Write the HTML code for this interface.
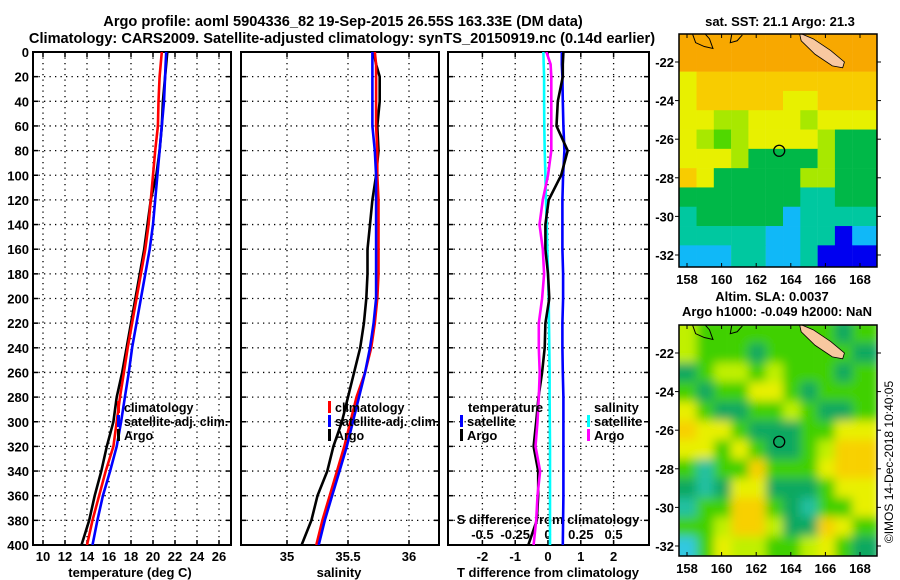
<!DOCTYPE html>
<html><head><meta charset="utf-8">
<style>
html,body{margin:0;padding:0;background:#fff;}
svg{display:block;font-family:"Liberation Sans",Arial,sans-serif;font-weight:bold;}
</style></head>
<body>
<svg id="chart" width="900" height="580" viewBox="0 0 900 580" xmlns="http://www.w3.org/2000/svg">
<defs>
<filter id="blur" x="0" y="0" width="1" height="1"><feGaussianBlur stdDeviation="5"/></filter>
<clipPath id="clipTop"><rect x="679" y="34" width="198" height="233"/></clipPath>
<clipPath id="clipBot"><rect x="679" y="325" width="198" height="231"/></clipPath>
<clipPath id="c1"><rect x="33" y="52" width="198" height="493"/></clipPath>
<clipPath id="c2"><rect x="241" y="52" width="198" height="493"/></clipPath>
<clipPath id="c3"><rect x="449" y="52" width="199" height="493"/></clipPath>
</defs>
<text x="343" y="26" font-size="14.6" text-anchor="middle">Argo profile: aoml 5904336_82 19-Sep-2015 26.55S 163.33E (DM data)</text>
<text x="342" y="43" font-size="14.6" text-anchor="middle">Climatology: CARS2009. Satellite-adjusted climatology: synTS_20150919.nc (0.14d earlier)</text>
<g id="plots"></g>
<text transform="translate(893,462) rotate(-90)" font-size="12" font-weight="normal" text-anchor="middle">©IMOS 14-Dec-2018 10:40:05</text>
</svg>
<script>
const depths=[0,10,20,40,60,80,100,120,140,160,180,200,220,240,260,280,300,320,340,360,380,400];
const tClim=[20.8,20.7,20.6,20.5,20.45,20.2,20.0,19.8,19.6,19.3,18.9,18.5,18.1,17.7,17.35,17.0,16.7,16.4,15.7,15.1,14.5,14.0];
const tSat=[21.2,21.15,21.1,21.0,20.8,20.6,20.4,20.2,20.0,19.7,19.3,18.9,18.5,18.1,17.8,17.45,17.1,16.7,16.1,15.45,14.95,14.5];
const tArgo=[21.3,21.2,21.1,20.9,20.8,20.6,20.3,19.8,19.5,19.2,18.8,18.4,18.0,17.6,17.2,16.7,16.4,15.8,15.3,14.7,14.2,13.5];
const sClim=[35.72,35.73,35.73,35.73,35.73,35.74,35.74,35.75,35.75,35.75,35.75,35.74,35.72,35.69,35.64,35.57,35.52,35.47,35.41,35.35,35.29,35.24];
const sSat=[35.70,35.70,35.70,35.70,35.70,35.72,35.73,35.73,35.73,35.73,35.73,35.73,35.71,35.68,35.64,35.59,35.54,35.49,35.43,35.37,35.31,35.26];
const sArgo=[35.71,35.73,35.76,35.76,35.74,35.75,35.73,35.70,35.68,35.66,35.66,35.65,35.63,35.60,35.55,35.50,35.45,35.38,35.33,35.25,35.20,35.12];
const tDiffSat=[0.42,0.42,0.44,0.45,0.47,0.5,0.46,0.44,0.44,0.44,0.46,0.46,0.44,0.44,0.45,0.47,0.47,0.47,0.47,0.47,0.46,0.45];
const tDiffArgo=[0.47,0.45,0.45,0.3,0.26,0.6,0.4,0.02,-0.08,-0.08,0.0,0.04,-0.08,-0.1,-0.18,-0.29,-0.36,-0.44,-0.3,-0.3,-0.34,-0.6];
const sDiffSat=[-0.035,-0.033,-0.03,-0.03,-0.028,-0.025,-0.02,-0.015,-0.01,-0.005,0,0.005,0.008,0.01,0.012,0.012,0.014,0.015,0.015,0.015,0.015,0.015];
const sDiffArgo=[-0.012,0.02,0.025,0.025,0.025,0.025,0.0,-0.04,-0.065,-0.04,-0.03,-0.045,-0.07,-0.07,-0.063,-0.07,-0.08,-0.095,-0.06,-0.08,-0.09,-0.11];
const depthTicks=[0,20,40,60,80,100,120,140,160,180,200,220,240,260,280,300,320,340,360,380,400];
const tTicks=[10,12,14,16,18,20,22,24,26];
const sTicks=[35,35.5,36];
const sTickLabels=["35","35.5","36"];
const dTicks=[-2,-1,0,1,2];
const sdTicks=[-0.5,-0.25,0,0.25,0.5];
const sdTickLabels=["-0.5","-0.25","0","0.25","0.5"];
const lonTicks=[158,160,162,164,166,168];
const latTicks=[-22,-24,-26,-28,-30,-32];
const sstGrid=["OOOOOOOOOOO","OOOOOOOOOOO","LYYYYYYYYYY","LYYYYYLLYYY","LLGGLLLGLLL","LGgGLLLLGDD","LLLGDDDDGDD","YLDDDDDGGDD","DDDDDDDTTDD","TDDDDDCTTTT","TTTTTCCTTBC","CCCTTCCTBBB"];
const slaGrid=["yGGGGGGGGDG","yGGGDGGGGGD","DGyyGyGGGDG","GDGGYYGDGGG","YGDDGGyGDDG","OYYGDDDGGYY","YYGYGDDGyOO","GTGGOGGGYOO","DTDYYDDDGYY","TGGOOGDTGGY","GGyOOyDDOYG","CGYyyGGyYGD"];
const sstCol={O:"#f8a800",Y:"#f8cc00",L:"#e8f000",G:"#a8e800",g:"#50d800",D:"#00b848",T:"#00c8a0",C:"#10b8f8",B:"#0000f0"};
const slaCol={O:"#f8d000",Y:"#e8f000",y:"#c0f000",G:"#40d000",D:"#10a860",T:"#20c0a0",C:"#30c8e0"};
const argoLon=163.33, argoLat=-26.6;

const NS="http://www.w3.org/2000/svg";
const root=document.getElementById('plots');
function el(tag,attrs,parent,txt){const e=document.createElementNS(NS,tag);for(const k in attrs)e.setAttribute(k,attrs[k]);if(txt!==undefined)e.textContent=txt;(parent||root).appendChild(e);return e;}
const Y0=52,Y1=545;
function yD(d){return Y0+(d/400)*(Y1-Y0);}
function xT(v){return 43+(v-10)*11;}
function xS(v){return 287+(v-35)*122;}
function xD(v){return 548+v*32.8;}
function xSD(v){return 548+v*4*32.8;}

function panel(name,x0,x1){
  const g=el('g',{});
  
  
  depthTicks.forEach(d=>{
    if(d>0&&d<400){const l=el('line',{x1:x0,x2:x1,y1:yD(d),y2:yD(d),stroke:'#000','stroke-width':1.3,'stroke-dasharray':'1.3 4.2'},g);
    }
    el('line',{x1:x0,x2:x0+5,y1:yD(d),y2:yD(d),stroke:'#000','stroke-width':1.5},g);
    el('line',{x1:x1-5,x2:x1,y1:yD(d),y2:yD(d),stroke:'#000','stroke-width':1.5},g);
  });
  const r=el('rect',{x:x0,y:Y0,width:x1-x0,height:Y1-Y0,fill:'none',stroke:'#000','stroke-width':2},g);
  
  return g;
}
function vgrid(g,xs){xs.forEach(x=>{const l=el('line',{x1:x,x2:x,y1:Y0,y2:Y1,stroke:'#000','stroke-width':1.3,'stroke-dasharray':'1.3 4.2'},g);
 el('line',{x1:x,x2:x,y1:Y1-5,y2:Y1,stroke:'#000','stroke-width':1.5},g);el('line',{x1:x,x2:x,y1:Y0,y2:Y0+5,stroke:'#000','stroke-width':1.5},g);});}
function series(g,vals,fx,color,name,clip){
  const pts=vals.map((v,i)=>fx(v).toFixed(1)+','+yD(depths[i]).toFixed(1)).join(' ');
  const p=el('polyline',{points:pts,fill:'none',stroke:color,'stroke-width':2.6,'clip-path':'url(#'+clip+')'},g);
  
}
function legend(g,x,y,items,fs){items.forEach((it,i)=>{
  const b=el('rect',{x:x,y:y+i*14-11,width:3,height:12,fill:it[1]},g);
  
  const t=el('text',{x:x+7,y:y+i*14,'font-size':fs||13},g,it[0]);
  
});}

// Panel 1
const g1=panel('temperature-panel',33,231);
vgrid(g1,tTicks.map(xT));
depthTicks.forEach(d=>{const t=el('text',{x:29,y:yD(d)+5,'font-size':13,'text-anchor':'end'},g1,String(d));});
tTicks.forEach(v=>{const t=el('text',{x:xT(v),y:561,'font-size':13,'text-anchor':'middle'},g1,String(v));});
{const t=el('text',{x:130,y:577,'font-size':13,'text-anchor':'middle'},g1,'temperature (deg C)');}
series(g1,tArgo,xT,'#000','argo-temperature-line','c1');
series(g1,tClim,xT,'#f00','climatology-temperature-line','c1');
series(g1,tSat,xT,'#00f','satellite-temperature-line','c1');
legend(g1,117,412,[['climatology','#f00'],['satellite-adj. clim.','#00f'],['Argo','#000']],12.5);

// Panel 2
const g2=panel('salinity-panel',241,439);
vgrid(g2,sTicks.map(xS));
sTicks.forEach((v,i)=>{const t=el('text',{x:xS(v),y:561,'font-size':13,'text-anchor':'middle'},g2,sTickLabels[i]);});
{const t=el('text',{x:339,y:577,'font-size':13,'text-anchor':'middle'},g2,'salinity');}
series(g2,sArgo,xS,'#000','argo-salinity-line','c2');
series(g2,sClim,xS,'#f00','climatology-salinity-line','c2');
series(g2,sSat,xS,'#00f','satellite-salinity-line','c2');
legend(g2,328,412,[['climatology','#f00'],['satellite-adj. clim.','#00f'],['Argo','#000']],12.5);

// Panel 3
const g3=panel('difference-panel',448,649);
vgrid(g3,dTicks.map(xD));
dTicks.forEach(v=>{const t=el('text',{x:xD(v),y:561,'font-size':13,'text-anchor':'middle'},g3,String(v));});
sdTicks.forEach((v,i)=>{const t=el('text',{x:xSD(v),y:539,'font-size':13,'text-anchor':'middle'},g3,sdTickLabels[i]);});
{const t=el('text',{x:548,y:524,'font-size':13,'text-anchor':'middle'},g3,'S difference from climatology');}
{const t=el('text',{x:548,y:577,'font-size':13,'text-anchor':'middle'},g3,'T difference from climatology');}
series(g3,sDiffSat,xSD,'#00ffff','satellite-salinity-diff-line','c3');
series(g3,tDiffSat,xD,'#00f','satellite-temperature-diff-line','c3');
series(g3,tDiffArgo,xD,'#000','argo-temperature-diff-line','c3');
series(g3,sDiffArgo,xSD,'#f0f','argo-salinity-diff-line','c3');
{const t=el('text',{x:468,y:412,'font-size':13},g3,'temperature');}
legend(g3,460,426,[['satellite','#00f'],['Argo','#000']]);
{const t=el('text',{x:594,y:412,'font-size':13},g3,'salinity');}
legend(g3,587,426,[['satellite','#00ffff'],['Argo','#f0f']]);

// Maps
function map(name,top,grid,cols,clip){
  const g=el('g',{});
  
  
  const X0=679,W=198,H=(clip==='clipTop')?233:231;
  const lx=lon=>687+(lon-158)*17.3;
  const ly=lat=>top+(-20.55-lat)*19.3;
  const gc=el('g',{'clip-path':'url(#'+clip+')'},g);
  const gf=el('g',{filter: clip==='clipBot'?'url(#blur)':''},gc);
  grid.forEach((row,r)=>{[...row].forEach((c,k)=>{
    const x=lx(157.55+k),y=ly(-20.5-r);
    el('rect',{x:x-(k===0?12:0),y:y-(r===0?6:0),width:17.5+(k===0?12:0)+(k===10?10:0),height:19.6+(r===0?6:0)+(r===11?10:0),fill:cols[c]},gf);
  });});
  const nc=el('polygon',{points:[[164.5,-20.5],[165.3,-20.8],[166.3,-21.4],[167.1,-22.0],[167.0,-22.3],[166.4,-22.2],[165.4,-21.6],[164.6,-20.9]].map(p=>lx(p[0])+','+ly(p[1])).join(' '),fill:'#f8c8a0',stroke:'#000','stroke-width':0.8},gc);
  
  const coast=el('polyline',{points:[[158.3,-20.5],[158.5,-21.0],[159.0,-21.2],[159.5,-21.3],[159.3,-20.8],[159.0,-20.5]].map(p=>lx(p[0])+','+ly(p[1])).join(' '),fill:'none',stroke:'#000','stroke-width':1},gc);
  
  const coast2=el('polyline',{points:[[160.6,-20.5],[160.5,-21.0],[160.9,-20.9],[161.2,-20.6]].map(p=>lx(p[0])+','+ly(p[1])).join(' '),fill:'none',stroke:'#000','stroke-width':1},gc);
  
  const c=el('circle',{cx:lx(argoLon),cy:ly(argoLat),r:5.5,fill:'none',stroke:'#000','stroke-width':1.3},g);
  
  const fr=el('rect',{x:X0,y:top,width:W,height:H,fill:'none',stroke:'#000','stroke-width':1.5},g);
  
  lonTicks.forEach(v=>{el('line',{x1:lx(v),x2:lx(v),y1:top+H,y2:top+H-4,stroke:'#000'},g);el('line',{x1:lx(v),x2:lx(v),y1:top,y2:top+4,stroke:'#000'},g);
    const t=el('text',{x:lx(v),y:top+H+17,'font-size':13,'text-anchor':'middle'},g,String(v));});
  latTicks.forEach(v=>{el('line',{x1:X0,x2:X0-4,y1:ly(v),y2:ly(v),stroke:'#000'},g);el('line',{x1:X0+W,x2:X0+W+4,y1:ly(v),y2:ly(v),stroke:'#000'},g);
    const t=el('text',{x:X0-5,y:ly(v)+5,'font-size':13,'text-anchor':'end'},g,String(v));});
  return g;
}
map('sst-map',34,sstGrid,sstCol,'clipTop');
map('sla-map',325,slaGrid,slaCol,'clipBot');
{const t=el('text',{x:780,y:26,'font-size':13,'text-anchor':'middle'},root,'sat. SST: 21.1 Argo: 21.3');}
{const t=el('text',{x:772,y:301,'font-size':13,'text-anchor':'middle'},root,'Altim. SLA: 0.0037');}
{const t=el('text',{x:777,y:316,'font-size':13,'text-anchor':'middle'},root,'Argo h1000: -0.049 h2000: NaN');}
</script>
</body></html>
